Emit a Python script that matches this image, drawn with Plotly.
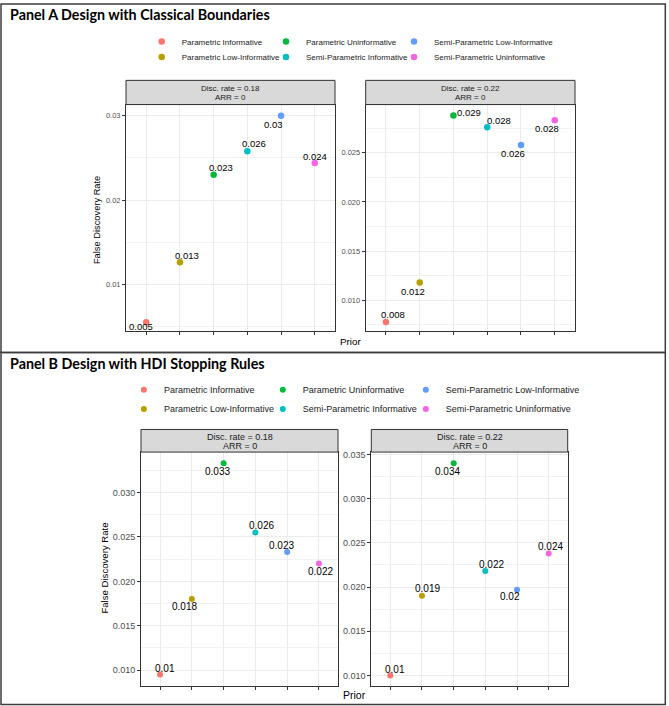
import plotly.graph_objects as go

W, H = 669, 706

# ---------------- data ----------------
prior_names = ["Parametric Informative", "Parametric Low-Informative", "Parametric Uninformative",
               "Semi-Parametric Informative", "Semi-Parametric Low-Informative",
               "Semi-Parametric Uninformative"]
prior_colors = ["#F8766D", "#B79F00", "#00BA38", "#00BFC4", "#619CFF", "#F564E3"]
prior_index = [1, 2, 3, 4, 5, 6]

# Panel A: classical boundaries
fdr_classical_018 = [0.0055, 0.0126, 0.0230, 0.0258, 0.0300, 0.0244]
lbl_classical_018 = ["0.005", "0.013", "0.023", "0.026", "0.03", "0.024"]
fdr_classical_022 = [0.0078, 0.0118, 0.0288, 0.0276, 0.0258, 0.0283]
lbl_classical_022 = ["0.008", "0.012", "0.029", "0.028", "0.026", "0.028"]

# Panel B: HDI stopping rules
fdr_hdi_018 = [0.0095, 0.0180, 0.0333, 0.0255, 0.0233, 0.0220]
lbl_hdi_018 = ["0.01", "0.018", "0.033", "0.026", "0.023", "0.022"]
fdr_hdi_022 = [0.0100, 0.0190, 0.0340, 0.0218, 0.0197, 0.0238]
lbl_hdi_022 = ["0.01", "0.019", "0.034", "0.022", "0.02", "0.024"]

strip_rates = ["Disc. rate = 0.18", "Disc. rate = 0.22"]
strip_arr = "ARR = 0"
panel_titles = ["Panel A Design with Classical Boundaries", "Panel B Design with HDI Stopping Rules"]
y_title = "False Discovery Rate"
x_title = "Prior"

# ---------------- layout / style ----------------
FONT = "Liberation Sans"


def px(x):
    return x / W


def py(y):
    return 1 - y / H


# label offsets (dx right, dy up) in pixels – repel-style placement
off_a18 = [(-5, -4), (7, 7), (7, 7), (7, 8), (-8, -9), (0, 7)]
off_a22 = [(7, 7), (-7, -9), (16, 3), (12, 7), (-8, -9), (-8, -8)]
off_b18 = [(5, 6), (-7, -7), (-6, -8), (6, 7), (-6, 7), (2, -8)]
off_b22 = [(5, 6), (6, 7), (-6, -8), (6, 7), (-7, -7), (2, 7)]

subplots = [
    dict(vals=fdr_classical_018, labs=lbl_classical_018, strip=strip_rates[0], off=off_a18,
         dx=(126, 335), dy=(102, 329.3), strip_top=77.7, yr=(0.00446, 0.03134), dtick=0.01,
         fmt=".2f", tick_fs=7.5, lab_fs=9.5, msize=6.5, strip_fs=8, strip_y=(86, 95), panel=0),
    dict(vals=fdr_classical_022, labs=lbl_classical_022, strip=strip_rates[1], off=off_a22,
         dx=(365.7, 575), dy=(102, 329.3), strip_top=77.7, yr=(0.00689, 0.0299), dtick=0.005,
         fmt=".3f", tick_fs=7.5, lab_fs=9.5, msize=6.5, strip_fs=8, strip_y=(86, 95), panel=0),
    dict(vals=fdr_hdi_018, labs=lbl_hdi_018, strip=strip_rates[0], off=off_b18,
         dx=(141, 338), dy=(451, 685.7), strip_top=428.3, yr=(0.00824, 0.03456), dtick=0.005,
         fmt=".3f", tick_fs=9, lab_fs=10, msize=6, strip_fs=9, strip_y=(435.5, 445), panel=1),
    dict(vals=fdr_hdi_022, labs=lbl_hdi_022, strip=strip_rates[1], off=off_b22,
         dx=(371.3, 567.7), dy=(451, 685.7), strip_top=428.3, yr=(0.00883, 0.03526), dtick=0.005,
         fmt=".3f", tick_fs=9, lab_fs=10, msize=6, strip_fs=9, strip_y=(435.5, 445), panel=1),
]

legend_names = ["legend"] + [f"legend{i}" for i in range(2, 13)]
# legend placement per panel: column left edges, row centres (pixels), font size
legend_geom = [
    dict(cols=[141.7, 266.0, 394.0], rows=[38.7, 54.3], fs=8),
    dict(cols=[123.9, 262.8, 405.8], rows=[388.3, 407.7], fs=9),
]

fig = go.Figure()
annotations = []
shapes = []
layout = {}

for s_i, sp in enumerate(subplots):
    n = "" if s_i == 0 else str(s_i + 1)
    xa, ya = "x" + n, "y" + n
    first_in_panel = s_i in (0, 2)
    for k in range(len(prior_names)):
        tr = dict(
            x=[prior_index[k]], y=[sp["vals"][k]], mode="markers", name=prior_names[k],
            marker=dict(color=prior_colors[k], size=sp["msize"], line=dict(width=0)),
            xaxis=xa, yaxis=ya, showlegend=first_in_panel,
            hovertemplate=prior_names[k] + ": %{y}<extra></extra>",
        )
        if first_in_panel:
            tr["legend"] = legend_names[sp["panel"] * 6 + k]
        fig.add_trace(go.Scatter(**tr))
        ox, oy = sp["off"][k]
        annotations.append(dict(
            x=prior_index[k], y=sp["vals"][k], xref=xa, yref=ya, text=sp["labs"][k],
            showarrow=False, xshift=ox, yshift=oy,
            font=dict(family=FONT, size=sp["lab_fs"], color="#000000"),
        ))
    grid = "#ebebeb"
    layout["xaxis" + n] = dict(
        domain=[px(sp["dx"][0]), px(sp["dx"][1])], anchor=ya, range=[0.4, 6.6],
        tickmode="array", tickvals=prior_index, showticklabels=False,
        ticks="outside", ticklen=3, tickcolor="#333333", tickwidth=1,
        showgrid=True, gridcolor=grid, gridwidth=1, zeroline=False,
        showline=True, linecolor="#333333", linewidth=1, mirror=True, fixedrange=True,
    )
    layout["yaxis" + n] = dict(
        domain=[py(sp["dy"][1]), py(sp["dy"][0])], anchor=xa, range=list(sp["yr"]),
        tick0=0, dtick=sp["dtick"], tickformat=sp["fmt"],
        ticks="outside", ticklen=3, tickcolor="#333333", tickwidth=1,
        tickfont=dict(family=FONT, size=sp["tick_fs"], color="#4d4d4d"),
        showgrid=True, gridcolor=grid, gridwidth=1, zeroline=False,
        minor=dict(tick0=0, dtick=sp["dtick"] / 2, showgrid=True, gridcolor="#f1f1f1", gridwidth=0.8),
        showline=True, linecolor="#333333", linewidth=1, mirror=True, fixedrange=True,
    )
    # strip
    shapes.append(dict(type="rect", xref="paper", yref="paper",
                       x0=px(sp["dx"][0]), x1=px(sp["dx"][1]),
                       y0=py(sp["dy"][0]), y1=py(sp["strip_top"]),
                       fillcolor="#d9d9d9", line=dict(color="#333333", width=1)))
    cx = px((sp["dx"][0] + sp["dx"][1]) / 2)
    for txt, yy in zip([sp["strip"], strip_arr], sp["strip_y"]):
        annotations.append(dict(x=cx, y=py(yy), xref="paper", yref="paper", text=txt,
                                showarrow=False, xanchor="center", yanchor="middle",
                                font=dict(family=FONT, size=sp["strip_fs"], color="#1a1a1a")))

# legends
for p, g in enumerate(legend_geom):
    for k in range(6):
        col, row = k // 2, k % 2
        layout[legend_names[p * 6 + k]] = dict(
            x=px(g["cols"][col]), y=py(g["rows"][row]), xanchor="left", yanchor="middle",
            bgcolor="rgba(0,0,0,0)", borderwidth=0, orientation="v",
            font=dict(family=FONT, size=g["fs"], color="#1a1a1a"),
        )

# panel titles, axis titles
title_pos = [(8.3, 11.7), (8.3, 361.7)]
ytitle_pos = [(97, 218, 9.3), (105, 568, 9.6)]
xtitle_pos = [(350.7, 340, 9.8), (354, 695, 10.5)]
for p in range(2):
    annotations.append(dict(x=px(title_pos[p][0]), y=py(title_pos[p][1]), xref="paper", yref="paper",
                            text="<b>" + panel_titles[p] + "</b>", showarrow=False,
                            xanchor="left", yanchor="middle",
                            font=dict(family="Lato", size=14.3, color="#000000")))
    annotations.append(dict(x=px(ytitle_pos[p][0]), y=py(ytitle_pos[p][1]), xref="paper", yref="paper",
                            text=y_title, textangle=-90, showarrow=False,
                            xanchor="center", yanchor="middle",
                            font=dict(family=FONT, size=ytitle_pos[p][2], color="#000000")))
    annotations.append(dict(x=px(xtitle_pos[p][0]), y=py(xtitle_pos[p][1]), xref="paper", yref="paper",
                            text=x_title, showarrow=False, xanchor="center", yanchor="middle",
                            font=dict(family=FONT, size=xtitle_pos[p][2], color="#000000")))

# outer panel boxes
for (y0, y1) in [(1, 351), (351, 704.5)]:
    shapes.append(dict(type="rect", xref="paper", yref="paper",
                       x0=px(1), x1=px(665.3), y0=py(y1), y1=py(y0),
                       line=dict(color="#3c3c3c", width=1.5), fillcolor="rgba(0,0,0,0)"))

fig.update_layout(
    width=W, height=H, margin=dict(l=0, r=0, t=0, b=0),
    paper_bgcolor="white", plot_bgcolor="white",
    annotations=annotations, shapes=shapes, **layout,
)

fig.write_html("out.html")
